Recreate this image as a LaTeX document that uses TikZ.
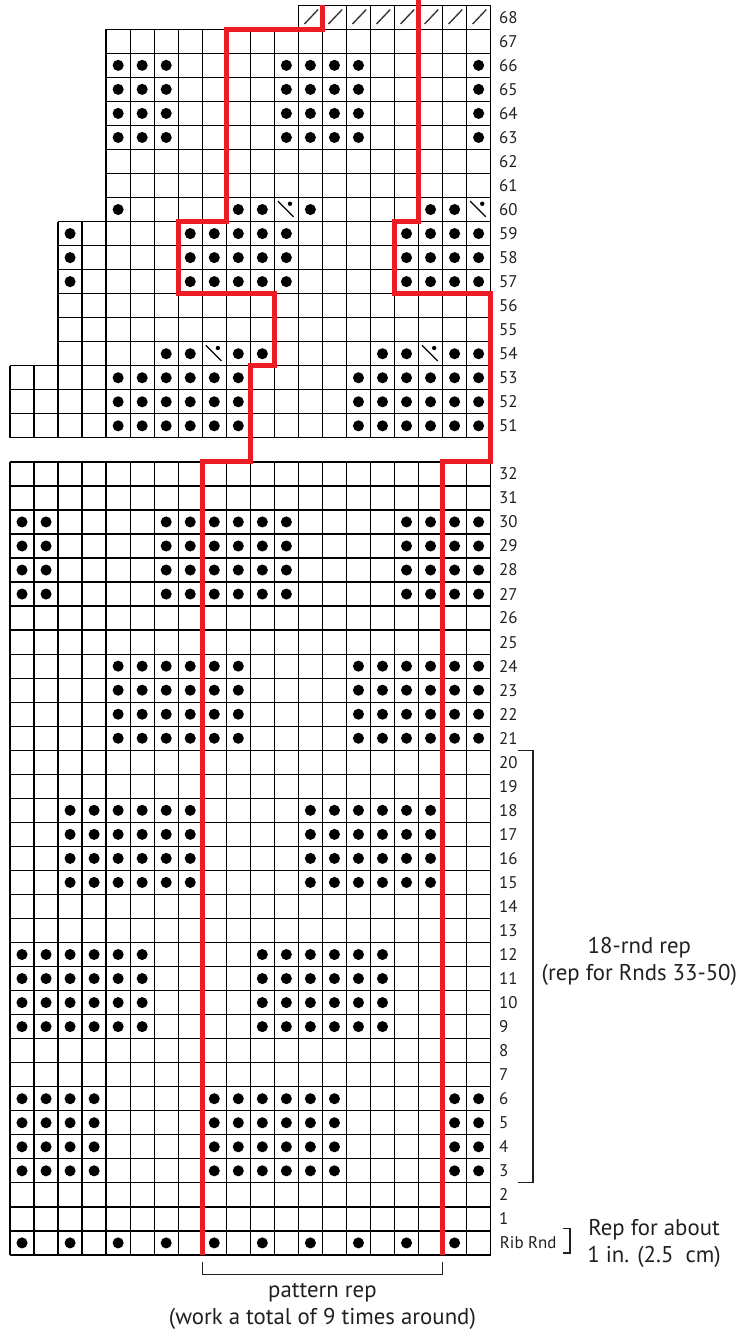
\documentclass[tikz,border=0pt]{standalone}
\usepackage{fontspec}
\setmainfont{PT Sans}

\definecolor{repred}{RGB}{237,28,36}
\definecolor{chartink}{RGB}{35,31,32}

\tikzstyle{gridline} = [line width=1.5pt, black]
\tikzstyle{repline} = [line width=6pt, repred]
\tikzstyle{bracket} = [line width=1.4pt, chartink]
\tikzstyle{rowno} = [anchor=west, inner sep=0pt, text=chartink, font=\fontsize{20}{23}\selectfont]
\tikzstyle{note} = [align=center, inner sep=0pt, text=chartink, font=\fontsize{27}{32}\selectfont]

% one stitch symbol per cell: column #1, chart line #2
\newcommand{\knitdot}[2]{\fill (#1-0.5,#2+0.5) circle (0.23);}
\newcommand{\decsym}[2]{\draw[line width=1.4pt] (#1-0.85,#2+0.85) -- (#1-0.2,#2+0.2);
  \fill (#1-0.35,#2+0.74) circle (0.09);}
\newcommand{\bosym}[2]{\draw[line width=1.6pt, black!80] (#1-0.75,#2+0.22) -- (#1-0.18,#2+0.82);}

\begin{document}
\begin{tikzpicture}
\useasboundingbox (-0.416,-3.29) rectangle (30.33,52.22);

% grid, rounds 1-32
\draw[gridline] (0,0) grid (20,33);
% grid, rounds 51-68
\draw[gridline] (0,34) grid (20,37);
\draw[gridline] (2,37) grid (20,43);
\draw[gridline] (4,43) grid (20,51);
\draw[gridline] (12,51) grid (20,52);

% rib round
\foreach \c in {1,3,5,7,9,11,13,15,17,19} {\knitdot{\c}{0}}
% lower part
\foreach \r in {3,4,5,6}
  \foreach \c in {1,2,3,4,9,10,11,12,13,14,19,20} {\knitdot{\c}{\r}}
\foreach \r in {9,10,11,12}
  \foreach \c in {1,2,3,4,5,6,11,12,13,14,15,16} {\knitdot{\c}{\r}}
\foreach \r in {15,16,17,18}
  \foreach \c in {3,4,5,6,7,8,13,14,15,16,17,18} {\knitdot{\c}{\r}}
\foreach \r in {21,22,23,24}
  \foreach \c in {5,6,7,8,9,10,15,16,17,18,19,20} {\knitdot{\c}{\r}}
\foreach \r in {27,28,29,30}
  \foreach \c in {1,2,7,8,9,10,11,12,17,18,19,20} {\knitdot{\c}{\r}}

% upper part (chart line = round - 17)
\foreach \r in {34,35,36}
  \foreach \c in {5,6,7,8,9,10,15,16,17,18,19,20} {\knitdot{\c}{\r}}
\foreach \c in {7,8,10,11,16,17,19,20} {\knitdot{\c}{37}}
\decsym{9}{37}
\decsym{18}{37}
\foreach \r in {40,41,42}
  \foreach \c in {3,8,9,10,11,12,17,18,19,20} {\knitdot{\c}{\r}}
\foreach \c in {5,10,11,13,18,19} {\knitdot{\c}{43}}
\decsym{12}{43}
\decsym{20}{43}
\foreach \r in {46,47,48,49}
  \foreach \c in {5,6,7,12,13,14,15,20} {\knitdot{\c}{\r}}
\foreach \c in {13,...,20} {\bosym{\c}{51}}

% pattern repeat outline
\draw[repline] (8,0) -- (8,33) -- (10,33) -- (10,37) -- (11,37) -- (11,40) -- (7,40)
  -- (7,43) -- (9,43) -- (9,51) -- (13,51) -- (13,52);
\draw[repline] (18,0) -- (18,33) -- (20,33) -- (20,40) -- (16,40) -- (16,43)
  -- (17,43) -- (17,52.22);

% round numbers
\node[rowno] (rib) at (20.38,0.5) {Rib Rnd};
\foreach \r in {1,...,32} {\node[rowno] (r\r) at (20.35,\r+0.5) {\r};}
\foreach \r in {51,...,68} {\node[rowno] (r\r) at (20.35,\r-16.5) {\r};}

% brackets
\draw[bracket] (21.14,21) -- (21.76,21) -- (21.76,3) -- (21.14,3);
\draw[bracket] (23.0,1.1) -- (23.3,1.1) -- (23.3,0.08) -- (23.0,0.08);
\draw[bracket] (8,-0.29) -- (8,-0.83) -- (18,-0.83) -- (18,-0.29);

\node[note] (rndrep) at (26.19,12.2) {18-rnd rep\\(rep for Rnds 33-50)};
\node[note] (ribrep) at (26.8,0.48) {Rep for about\\1 in. (2.5~ cm)};
\node[note] (patrep) at (13,-2.16) {pattern rep\\(work a total of 9 times around)};
\end{tikzpicture}
\end{document}
